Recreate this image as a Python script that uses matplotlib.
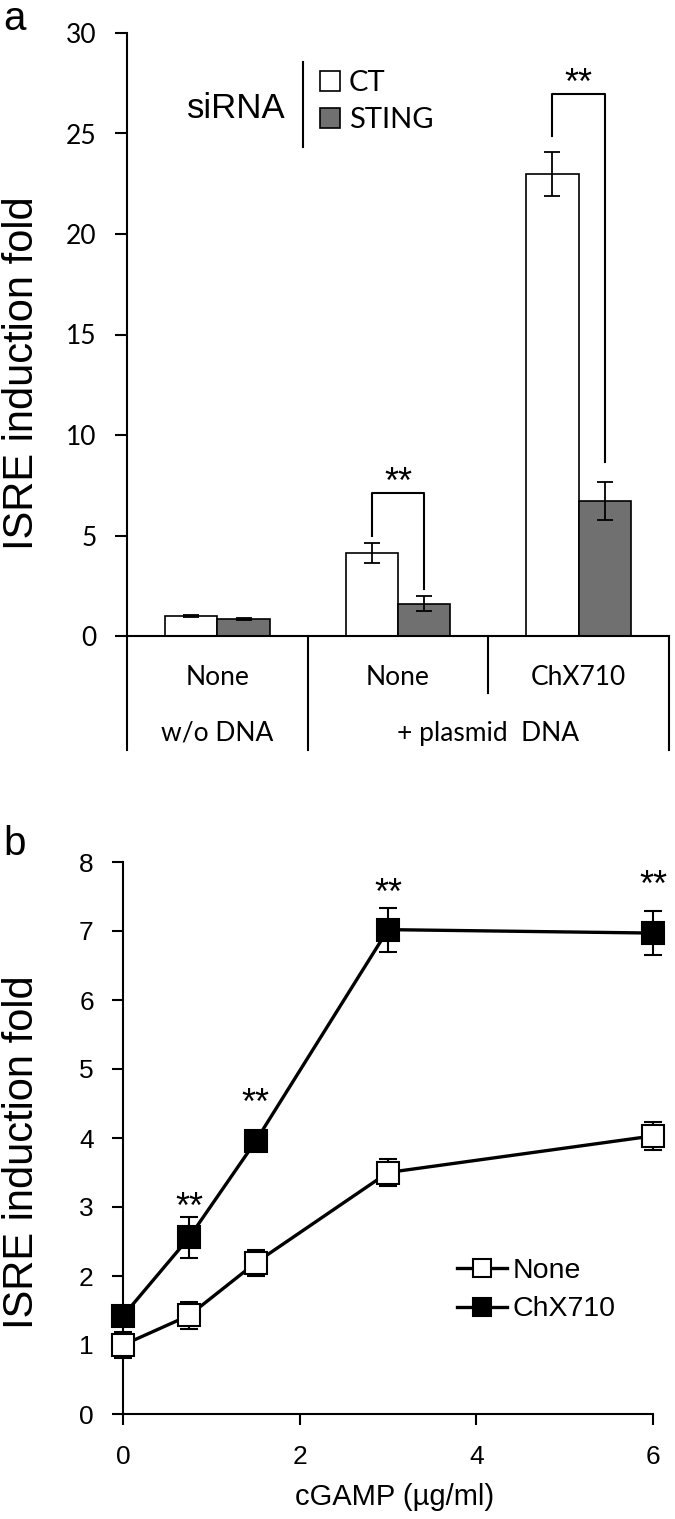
import numpy as np
import matplotlib
matplotlib.use('Agg')
import matplotlib.pyplot as plt

plt.rcParams['font.family'] = ['Liberation Sans', 'DejaVu Sans']
CAL = ['Lato', 'DejaVu Sans']

# ---- panel a data ----
conditions = ['None', 'None', 'ChX710']
dna_labels = ['w/o DNA', '+ plasmid  DNA']
ct_mean = [1.0, 4.13, 23.0]
ct_err = [0.03, 0.5, 1.1]
sting_mean = [0.85, 1.6, 6.72]
sting_err = [0.05, 0.37, 0.95]
# significance brackets: group index, top, left leg end, right leg end
sig_group = [1, 2]
sig_top = [7.1, 26.95]
sig_left = [5.0, 24.9]
sig_right = [2.35, 8.65]

# ---- panel b data ----
cgamp = [0, 0.75, 1.5, 3, 6]
none_mean = [1.0, 1.43, 2.19, 3.5, 4.03]
none_err = [0.19, 0.2, 0.19, 0.19, 0.2]
chx_mean = [1.42, 2.56, 3.95, 7.02, 6.97]
chx_err = [0.12, 0.3, 0.1, 0.32, 0.32]
star_x = [0.75, 1.5, 3, 6]
star_y = [3.15, 4.65, 7.69, 7.81]

fig = plt.figure(figsize=(6.75, 15.19), dpi=100)

# ================= panel a =================
ax = fig.add_axes([127 / 675, 1 - 636 / 1519, 542 / 675, 603 / 1519])
x = np.arange(len(conditions))
w = 0.29
ekw = dict(ecolor='black', elinewidth=1.3, capsize=5.5, capthick=1.3)
b1 = ax.bar(x - w / 2, ct_mean, w, yerr=ct_err, color='white',
            edgecolor='black', linewidth=1.2, error_kw=ekw, label='CT')
b2 = ax.bar(x + w / 2, sting_mean, w, yerr=sting_err, color='#707070',
            edgecolor='black', linewidth=1.2, error_kw=ekw, label='STING')

ax.set_xlim(-0.5, 2.5)
ax.set_ylim(0, 30)
ax.set_yticks(range(0, 31, 5))
ax.set_xticks([])
for s in ['top', 'right']:
    ax.spines[s].set_visible(False)
ax.spines['left'].set_linewidth(1.5)
ax.spines['bottom'].set_linewidth(1.5)
ax.tick_params(axis='y', direction='out', length=9, width=1.5,
               labelsize=19, pad=13)
for lab in ax.get_yticklabels():
    lab.set_family(CAL)
ax.set_ylabel('ISRE induction fold', fontsize=30)
ax.yaxis.set_label_coords(-0.157, 0.436)

# category table below the axis
lk = dict(color='black', lw=1.5, clip_on=False)
ax.plot([-0.5, -0.5], [0, -5.67], **lk)
ax.plot([0.5, 0.5], [0, -5.67], **lk)
ax.plot([1.5, 1.5], [0, -2.84], **lk)
ax.plot([2.5, 2.5], [0, -5.67], **lk)
for xi, lab in zip(x, conditions):
    ax.text(xi, -2.04, lab, ha='center', va='center', fontsize=19,
            family=CAL, clip_on=False)
ax.text(0, -4.83, dna_labels[0], ha='center', va='center', fontsize=19,
        family=CAL)
ax.text(1.5, -4.83, dna_labels[1], ha='center', va='center', fontsize=19,
        family=CAL)

# significance brackets
for g, top, yl, yr in zip(sig_group, sig_top, sig_left, sig_right):
    ax.plot([g - w / 2, g - w / 2, g + w / 2, g + w / 2],
            [yl, top, top, yr], color='black', lw=1.5)
    ax.text(g, top, '**', ha='center', va='baseline', fontsize=26)

# legend
ax.text(0.202, 0.859, 'siRNA', transform=ax.transAxes, ha='center',
        va='baseline', fontsize=25)
ax.plot([0.325, 0.325], [0.811, 0.952], transform=ax.transAxes,
        color='black', lw=1.5)
ax.legend(handles=[b1, b2], loc='center left', bbox_to_anchor=(0.356, 0.886),
          frameon=False, borderpad=0, borderaxespad=0, handlelength=0.7,
          handleheight=0.7, handletextpad=0.28, labelspacing=0.38,
          prop=dict(family=CAL, size=21))

fig.text(3 / 675, 1 - 30 / 1519, 'a', fontsize=29, ha='left',
         va='baseline')

# ================= panel b =================
bx = fig.add_axes([123 / 675, 1 - 1414 / 1519, 530 / 675, 552 / 1519])
ebk = dict(fmt='none', ecolor='black', elinewidth=1.5, capsize=6.5,
           capthick=1.5, clip_on=False, zorder=2)
bx.errorbar(cgamp, none_mean, yerr=none_err, **ebk)
bx.errorbar(cgamp, chx_mean, yerr=chx_err, **ebk)
l1, = bx.plot(cgamp, none_mean, '-s', color='black', lw=2.4, ms=16.5,
              mfc='white', mec='black', mew=1.5, clip_on=False, zorder=3,
              label='None')
l2, = bx.plot(cgamp, chx_mean, '-s', color='black', lw=2.4, ms=16.5,
              mfc='black', mec='black', mew=1.5, clip_on=False, zorder=3,
              label='ChX710')
for sx, sy in zip(star_x, star_y):
    bx.annotate('**', (sx, sy), xytext=(0, -8.3), textcoords='offset points',
                ha='center', va='center', fontsize=26)

bx.set_xlim(0, 6)
bx.set_ylim(0, 8)
bx.set_xticks([0, 2, 4, 6])
bx.set_yticks(range(0, 9))
for s in ['top', 'right']:
    bx.spines[s].set_visible(False)
bx.spines['left'].set_linewidth(1.5)
bx.spines['bottom'].set_linewidth(1.5)
bx.tick_params(direction='out', length=8, width=1.5, labelsize=19)
bx.tick_params(axis='y', pad=13)
bx.tick_params(axis='x', pad=14)
bx.set_ylabel('ISRE induction fold', fontsize=30)
bx.yaxis.set_label_coords(-0.153, 0.475)
bx.set_xlabel('cGAMP (µg/ml)', fontsize=21)
bx.xaxis.set_label_coords(0.513, -0.125)
bx.legend(handles=[l1, l2], loc='center left', bbox_to_anchor=(0.63, 0.224),
          frameon=False, borderpad=0, borderaxespad=0, handlelength=1.76,
          handletextpad=0.18, labelspacing=0.43, markerscale=0.82,
          prop=dict(size=20.5))

fig.text(3 / 675, 1 - 855 / 1519, 'b', fontsize=29, ha='left',
         va='baseline')

fig.savefig('out.png', dpi=100)
